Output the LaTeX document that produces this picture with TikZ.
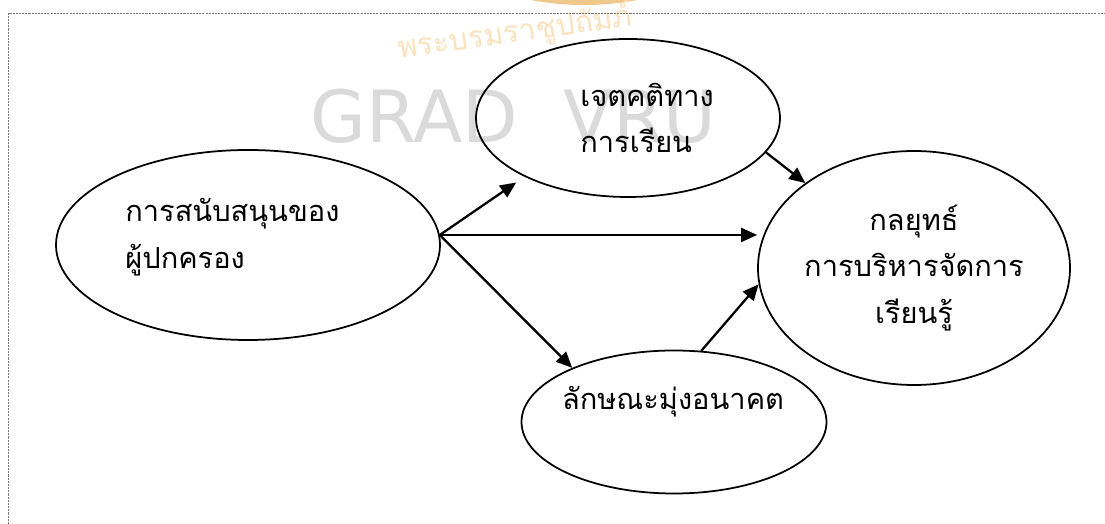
\documentclass[tikz,border=0pt]{standalone}
\usepackage{fontspec}
\usepackage{tikz}
\usepackage{xcolor}
\usetikzlibrary{arrows.meta,shapes.geometric}
\newfontfamily\thaifont[Script=Thai]{Loma}
\newfontfamily\markfont{DejaVu Sans}
\definecolor{framegray}{RGB}{120,120,120}
\definecolor{markgray}{RGB}{218,218,218}
\definecolor{logoorange}{RGB}{240,200,140}
\definecolor{logotext}{RGB}{250,226,190}

\begin{document}
\begin{tikzpicture}[
    oval/.style={ellipse, draw=black, line width=1pt, inner sep=0pt},
    lbl/.style={font=\thaifont\fontsize{16.5}{26.5}\selectfont, inner sep=0pt},
    arr/.style={-{Triangle[length=0.32cm,width=0.28cm]}, line width=1.3pt},
    frame/.style={draw=framegray, line width=0.5pt, dash pattern=on 1.2pt off 0.6pt}
  ]
  \useasboundingbox (0,0) rectangle (22.1,10.48);

  % Faint logo and watermark in the background
  \begin{scope}
    \clip (0,0) rectangle (22.1,10.48);
    \fill[logoorange] (11.68,16.1) circle (5.72);
  \end{scope}
  \node[font=\thaifont\fontsize{17}{17}\selectfont, text=logotext, rotate=8, inner sep=0pt] (logoT) at (10.3,9.82) {พระบรมราชูปถัมภ์};
  \node[font=\markfont\fontsize{41}{41}\selectfont, text=markgray, anchor=base west, inner sep=0pt] (mark) at (6.2,7.62) {GRAD\ \ VRU};

  % Dotted page frame (top and left)
  \draw[frame] (0.16,0) -- (0.16,10.22) -- (22.1,10.22);

  % Ellipses
  \node[oval, minimum width=7.68cm, minimum height=3.8cm] (par) at (4.96,5.58) {};
  \node[oval, minimum width=6.08cm, minimum height=3.16cm] (att) at (12.56,8.12) {};
  \node[oval, lbl, align=center, minimum width=6.24cm, minimum height=4.68cm] (goal) at (18.28,5.12) {กลยุทธ์\\การบริหารจัดการ\\เรียนรู้};
  \node[oval, minimum width=6.1cm, minimum height=2.86cm] (fut) at (13.48,2.04) {};

  % Labels placed off centre
  \node[lbl, align=left, anchor=west] (parT) at (2.5,5.74) {การสนับสนุนของ\\ผู้ปกครอง};
  \node[lbl, align=left, anchor=west] (attT) at (11.6,8.12) {เจตคติทาง\\การเรียน};
  \node[lbl] (futT) at (13.46,2.44) {ลักษณะมุ่งอนาคต};

  % Paths
  \draw[arr] (par.3) -- ([yshift=-0.2cm]att.206);
  \draw[arr] (par.3) -- (par.3 -| goal.west);
  \draw[arr] (par.3) -- (fut.152);
  \draw[arr] (att.-14) -- (goal.142);
  \draw[arr] (fut.69) -- (goal.186);
\end{tikzpicture}
\end{document}
